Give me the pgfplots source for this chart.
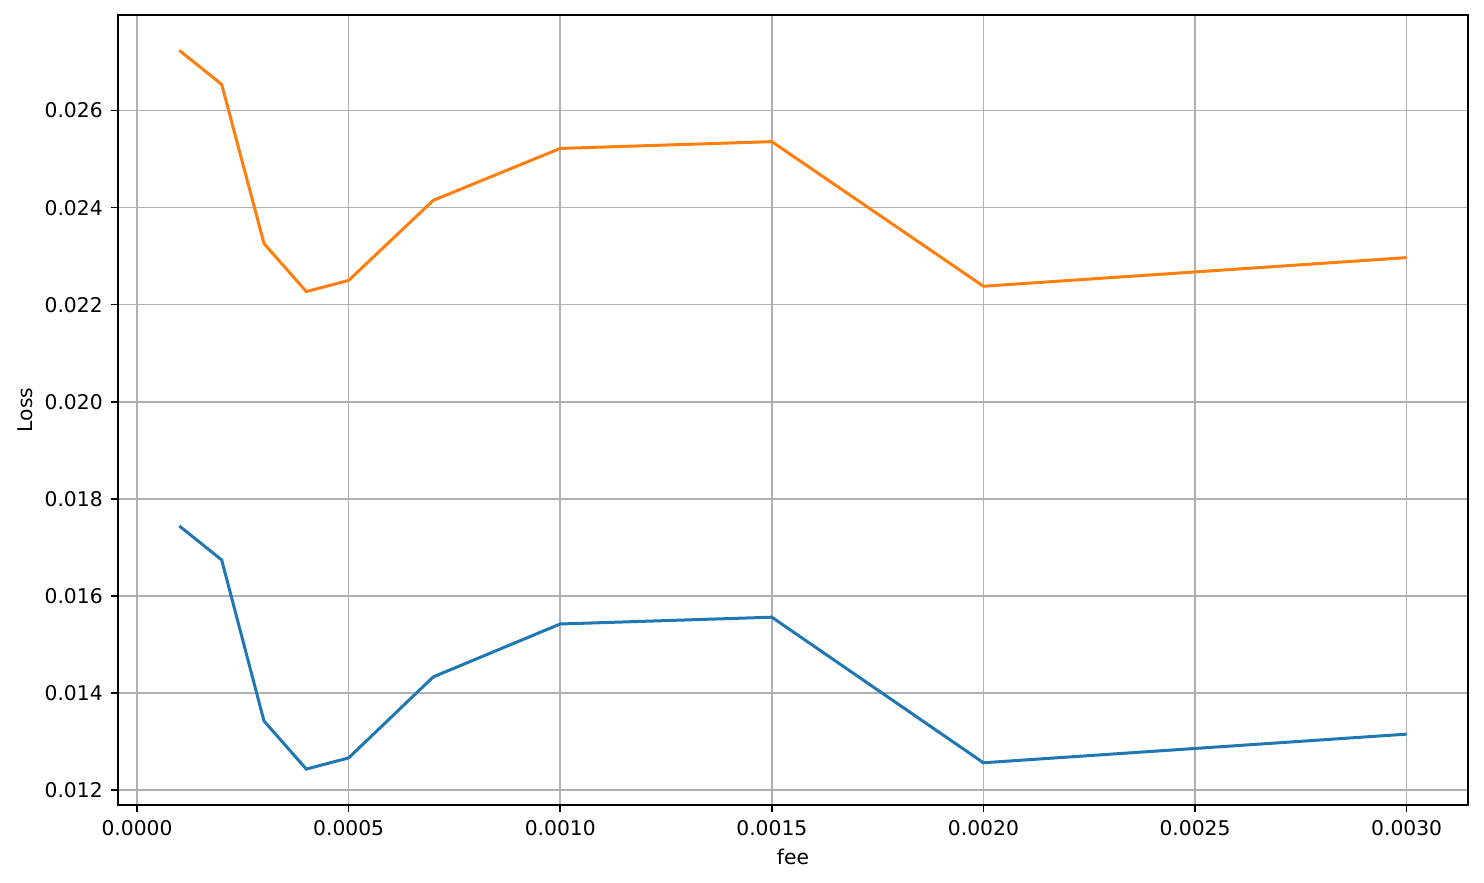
\documentclass[border=0pt]{standalone}
\usepackage{fontspec}
\setmainfont{DejaVu Sans}
\usepackage{pgfplots}
\pgfplotsset{compat=1.18}
\definecolor{mblue}{HTML}{1F77B4}
\definecolor{morange}{HTML}{FF7F0E}
\definecolor{mgrid}{HTML}{B0B0B0}
\begin{document}
\begin{tikzpicture}
\begin{axis}[
  name=ax,
  scale only axis,
  width=972pt, height=568.8pt,
  xmin=-0.000045, xmax=0.003145,
  ymin=0.01169, ymax=0.02797,
  axis line style={line width=1.15pt},
  grid=major,
  major grid style={color=mgrid, line width=1.15pt},
  tick align=outside,
  major tick length=5pt,
  tick style={line width=1.15pt, black},
  xtick pos=bottom, ytick pos=left,
  xtick={0,0.0005,0.001,0.0015,0.002,0.0025,0.003},
  xticklabels={0.0000,0.0005,0.0010,0.0015,0.0020,0.0025,0.0030},
  ytick={0.012,0.014,0.016,0.018,0.020,0.022,0.024,0.026},
  yticklabels={0.012,0.014,0.016,0.018,0.020,0.022,0.024,0.026},
  scaled ticks=false,
  tick label style={font=\fontsize{14.6}{17}\selectfont},
  xticklabel style={yshift=-2.5pt},
  yticklabel style={xshift=-2.5pt},
  label style={font=\fontsize{14.6}{17}\selectfont},
  xlabel={fee}, ylabel={Loss},
  xlabel style={at={([yshift=-37.4pt]axis description cs:0.5,0)},anchor=center},
  ylabel style={at={([xshift=-67pt]axis description cs:0,0.5)},anchor=center},
]
\addplot[color=mblue, line width=2.16pt, mark=none] coordinates {
(0.0001,0.01744) (0.0002,0.01674) (0.0003,0.01342) (0.0004,0.01243) (0.0005,0.01266)
(0.0007,0.01433) (0.0010,0.01542) (0.0015,0.01556) (0.0020,0.01256) (0.0030,0.01315)
};
\addplot[color=morange, line width=2.16pt, mark=none] coordinates {
(0.0001,0.02724) (0.0002,0.02654) (0.0003,0.02326) (0.0004,0.02227) (0.0005,0.02250)
(0.0007,0.02415) (0.0010,0.02522) (0.0015,0.02536) (0.0020,0.02238) (0.0030,0.02297)
};
\end{axis}
\path (ax.south west) ++(-84.96pt,-56.16pt);
\path (ax.north east) ++(11.52pt,10.8pt);
\end{tikzpicture}
\end{document}
